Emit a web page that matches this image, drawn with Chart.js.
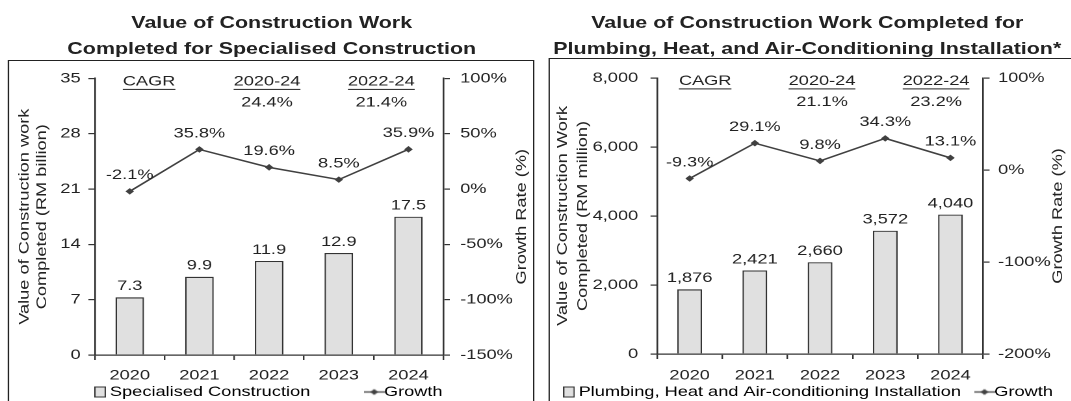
<!DOCTYPE html>
<html lang="en">
<head>
<meta charset="UTF-8">
<title>Value of Construction Work Completed</title>
<style>
  html, body { margin: 0; padding: 0; background: #fff; overflow: hidden; }
  body { width: 1071px; height: 401px; font-family: "Liberation Sans", Arial, sans-serif; color: #222; }
  /* the reference text is wide, so the page is laid out narrow and widened */
  #page { position: absolute; left: 0; top: 0; width: 824px; height: 401px; transform: scaleX(1.3); transform-origin: 0 0; }
  .title { position: absolute; top: 9px; width: 405px; text-align: center; font-weight: bold; font-size: 16.5px; line-height: 26px; white-space: nowrap; }
  .box { position: absolute; height: 360px; border: 1.5px solid #222; box-sizing: border-box; }
  canvas { position: absolute; }
</style>
</head>
<body>
<div id="page">
  <div class="title" style="left:6.5px">Value of Construction Work<br>Completed for Specialised Construction</div>
  <div class="title" style="left:418.5px">Value of Construction Work Completed for<br>Plumbing, Heat, and Air-Conditioning Installation*</div>

  <div class="box" style="left:6px; top:60px; width:405px"></div>
  <div class="box" style="left:421.5px; top:58px; width:405px"></div>

  <canvas id="leftChart" width="401" height="339" style="left:8px; top:62px"></canvas>
  <canvas id="rightChart" width="401" height="341" style="left:423px; top:60px"></canvas>
</div>

<script src="https://cdn.jsdelivr.net/npm/chart.js"></script>
<script>
    // Data
    const years = ['2020', '2021', '2022', '2023', '2024'];

    const specialisedValue = [7.3, 9.9, 11.9, 12.9, 17.5];      // RM billion
    const specialisedGrowth = [-2.1, 35.8, 19.6, 8.5, 35.9];    // %
    const specialisedValueTicks = [0, 7, 14, 21, 28, 35];
    const specialisedGrowthTicks = [-150, -100, -50, 0, 50, 100];

    const plumbingValue = [1876, 2421, 2660, 3572, 4040];       // RM million
    const plumbingGrowth = [-9.3, 29.1, 9.8, 34.3, 13.1];       // %
    const plumbingValueTicks = [0, 2000, 4000, 6000, 8000];
    const plumbingGrowthTicks = [-200, -100, 0, 100];

    const cagrPeriods = ['2020-24', '2022-24'];
    const specialisedCagr = [24.4, 21.4];
    const plumbingCagr = [21.1, 23.2];

    const STRETCH = 1.3;   // same as the css scaleX on #page
    const INK = '#222';
    const LINE = '#404040';
    const BAR_FILL = '#e0e0e0';
    const FONT = '"Liberation Sans", Arial, sans-serif';

    // legend icons
    function barIcon() {
        const c = document.createElement('canvas');
        c.width = 9; c.height = 11;
        const g = c.getContext('2d');
        g.fillStyle = BAR_FILL;
        g.fillRect(0.5, 0.5, 8, 10);
        g.strokeStyle = '#333';
        g.lineWidth = 1;
        g.strokeRect(0.5, 0.5, 8, 10);
        return c;
    }
    function growthIcon() {
        const c = document.createElement('canvas');
        c.width = 16; c.height = 10;
        const g = c.getContext('2d');
        g.strokeStyle = LINE;
        g.lineWidth = 1.3;
        g.beginPath(); g.moveTo(0, 5); g.lineTo(16, 5); g.stroke();
        g.fillStyle = LINE;
        g.beginPath(); g.moveTo(8, 2); g.lineTo(11, 5); g.lineTo(8, 8); g.lineTo(5, 5); g.closePath(); g.fill();
        return c;
    }

    // numbers over bars and points
    const valueLabels = {
        id: 'valueLabels',
        afterDatasetsDraw(chart, args, opts) {
            const ctx = chart.ctx;
            ctx.save();
            ctx.font = '14px ' + FONT;
            ctx.fillStyle = INK;
            ctx.textAlign = 'center';
            ctx.textBaseline = 'middle';
            chart.data.datasets.forEach((ds, i) => {
                const meta = chart.getDatasetMeta(i);
                const gap = ds.type === 'line' ? 16 : 11;
                meta.data.forEach((el, j) => {
                    ctx.fillText(opts.format[i](ds.data[j]), el.x, el.y - gap);
                });
            });
            ctx.restore();
        }
    };

    // CAGR block at the top of the plot
    const cagrNote = {
        id: 'cagrNote',
        afterDraw(chart, args, opts) {
            const {ctx, chartArea: a} = chart;
            const w = a.right - a.left;
            ctx.save();
            ctx.font = '14px ' + FONT;
            ctx.fillStyle = INK;
            ctx.textBaseline = 'middle';
            opts.items.forEach(it => {
                const x = a.left + it.pos * w;
                ctx.textAlign = it.align;
                ctx.fillText(it.head, x, a.top + 3);
                const tw = ctx.measureText(it.head).width;
                const x0 = it.align === 'left' ? x : x - tw / 2;
                ctx.fillRect(x0, a.top + 10.5, tw, 1);
                if (it.value) ctx.fillText(it.value, x, a.top + 24);
            });
            ctx.restore();
        }
    };

    // rotated axis titles, read bottom to top on both sides,
    // stretched along the text like the horizontal text
    const sideTitles = {
        id: 'sideTitles',
        afterDraw(chart, args, opts) {
            const {ctx, chartArea: a} = chart;
            const cy = (a.top + a.bottom) / 2;
            ctx.save();
            ctx.font = '14px ' + FONT;
            ctx.fillStyle = INK;
            ctx.textAlign = 'center';
            ctx.textBaseline = 'middle';
            opts.items.forEach(it => {
                ctx.save();
                ctx.translate(it.x, cy);
                ctx.scale(1 / STRETCH, STRETCH);
                ctx.rotate(-Math.PI / 2);
                ctx.fillText(it.text, 0, 0);
                ctx.restore();
            });
            ctx.restore();
        }
    };

    function makeChart(id, p) {
        const ctx = document.getElementById(id).getContext('2d');
        const tickGrid = { display: true, drawOnChartArea: false, drawTicks: true, tickLength: 5, color: '#333', lineWidth: 1.2 };
        const axisBorder = { display: true, color: '#333', width: 1.3 };
        const tickFont = { family: FONT, size: 14 };
        return new Chart(ctx, {
            type: 'bar',
            data: {
                labels: years,
                datasets: [{
                    type: 'bar',
                    label: p.barLabel,
                    data: p.values,
                    yAxisID: 'y',
                    backgroundColor: BAR_FILL,
                    borderColor: '#333',
                    borderWidth: 1.2,
                    barPercentage: p.barPct,
                    categoryPercentage: 1,
                    order: 1
                }, {
                    type: 'line',
                    label: 'Growth',
                    data: p.growth,
                    yAxisID: 'y1',
                    borderColor: LINE,
                    borderWidth: 1.5,
                    pointStyle: 'rectRot',
                    pointRadius: 3.3,
                    pointBackgroundColor: LINE,
                    pointBorderWidth: 0,
                    order: 0
                }]
            },
            options: {
                responsive: false,
                animation: false,
                devicePixelRatio: 2,
                layout: { padding: { top: p.top, left: 0, right: 0, bottom: 0 } },
                plugins: {
                    tooltip: { enabled: false },
                    legend: {
                        position: 'bottom',
                        maxHeight: p.legendHeight,
                        labels: {
                            usePointStyle: true,
                            pointStyleWidth: 1,
                            padding: 2,
                            color: INK,
                            font: tickFont,
                            generateLabels: () => [
                                { text: p.barText, pointStyle: barIcon(), datasetIndex: 0, lineWidth: 0, hidden: false },
                                { text: 'Growth', pointStyle: growthIcon(), datasetIndex: 1, lineWidth: 0, hidden: false }
                            ]
                        }
                    },
                    valueLabels: { format: [p.valueFormat, v => v.toFixed(1) + '%'] },
                    cagrNote: { items: [
                        { head: 'CAGR', pos: p.cagrPos[0], align: 'left' },
                        { head: cagrPeriods[0], value: p.cagr[0].toFixed(1) + '%', pos: p.cagrPos[1], align: 'center' },
                        { head: cagrPeriods[1], value: p.cagr[1].toFixed(1) + '%', pos: p.cagrPos[2], align: 'center' }
                    ] },
                    sideTitles: { items: [
                        { text: p.yTitle[0], x: p.titleX[0] },
                        { text: p.yTitle[1], x: p.titleX[1] },
                        { text: 'Growth Rate (%)', x: p.titleX[2] }
                    ] }
                },
                scales: {
                    x: {
                        grid: tickGrid,
                        border: axisBorder,
                        ticks: { color: INK, font: tickFont, padding: p.xPad, maxRotation: 0 },
                        afterFit: s => { s.height = p.xHeight; }
                    },
                    y: {
                        position: 'left',
                        min: p.valueTicks[0],
                        max: p.valueTicks[p.valueTicks.length - 1],
                        afterBuildTicks: s => { s.ticks = p.valueTicks.map(v => ({ value: v })); },
                        grid: tickGrid,
                        border: axisBorder,
                        ticks: { color: INK, font: tickFont, padding: p.yPad, callback: p.valueTick },
                        afterFit: s => { s.width = p.yWidth; }
                    },
                    y1: {
                        position: 'right',
                        min: p.growthTicks[0],
                        max: p.growthTicks[p.growthTicks.length - 1],
                        afterBuildTicks: s => { s.ticks = p.growthTicks.map(v => ({ value: v })); },
                        grid: tickGrid,
                        border: axisBorder,
                        ticks: { color: INK, font: tickFont, padding: p.y1Pad, callback: v => v + '%' },
                        afterFit: s => { s.width = p.y1Width; }
                    }
                }
            },
            plugins: [valueLabels, cagrNote, sideTitles]
        });
    }

    makeChart('leftChart', {
        barLabel: 'Specialised Construction',
        barText: 'Specialised Construction            ',
        values: specialisedValue,
        growth: specialisedGrowth,
        valueTicks: specialisedValueTicks,
        growthTicks: specialisedGrowthTicks,
        valueFormat: v => v.toFixed(1),
        valueTick: v => v,
        cagr: specialisedCagr,
        cagrPos: [0.08, 0.494, 0.822],
        yTitle: ['Value of Construction work', 'Completed (RM billion)'],
        titleX: [11.2, 24.3, 393.5],
        barPct: 0.41,
        top: 9.5, yWidth: 65, y1Width: 68, xHeight: 28, legendHeight: 18,
        xPad: 7, yPad: 6, y1Pad: 8
    });

    makeChart('rightChart', {
        barLabel: 'Plumbing, Heat and Air-conditioning Installation',
        barText: 'Plumbing, Heat and Air-conditioning Installation    ',
        values: plumbingValue,
        growth: plumbingGrowth,
        valueTicks: plumbingValueTicks,
        growthTicks: plumbingGrowthTicks,
        valueFormat: v => v.toLocaleString('en-US'),
        valueTick: v => v.toLocaleString('en-US'),
        cagr: plumbingCagr,
        cagrPos: [0.067, 0.506, 0.856],
        yTitle: ['Value of Construction Work', 'Completed (RM million)'],
        titleX: [10.1, 25.5, 390.8],
        barPct: 0.38,
        top: 12, yWidth: 82.4, y1Width: 67.8, xHeight: 29, legendHeight: 18,
        xPad: 8, yPad: 9.5, y1Pad: 6.5
    });
</script>
</body>
</html>
